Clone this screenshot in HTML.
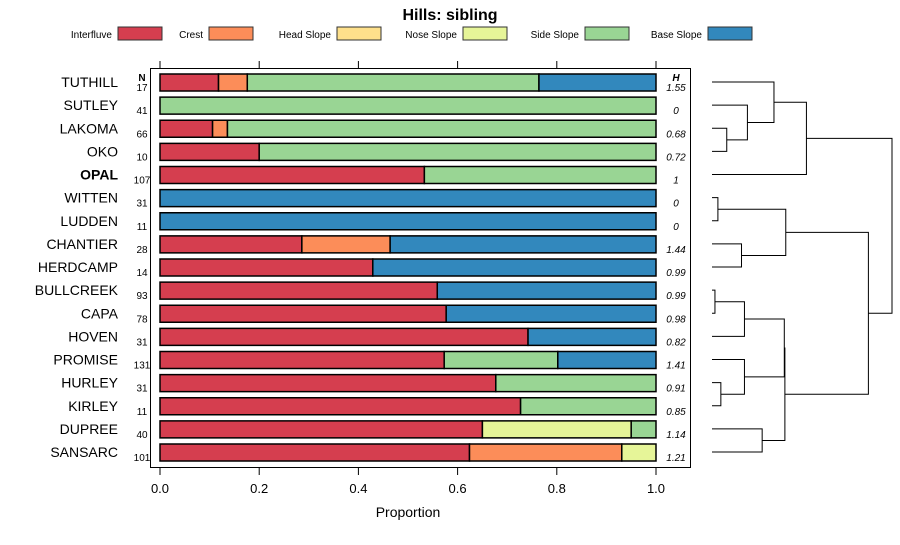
<!DOCTYPE html>
<html><head><meta charset="utf-8"><style>
body{margin:0;background:#fff;font-family:"Liberation Sans",sans-serif}
</style></head><body>
<svg width="900" height="540" xmlns="http://www.w3.org/2000/svg" font-family="Liberation Sans, sans-serif">
<g id="root"></g>
</svg>
<script>
const categories=["TUTHILL","SUTLEY","LAKOMA","OKO","OPAL","WITTEN","LUDDEN","CHANTIER","HERDCAMP","BULLCREEK","CAPA","HOVEN","PROMISE","HURLEY","KIRLEY","DUPREE","SANSARC"];
const seriesNames=["Interfluve","Crest","Head Slope","Nose Slope","Side Slope","Base Slope"];
const interfluve=[0.118,0,0.106,0.2,0.533,0,0,0.286,0.429,0.559,0.577,0.742,0.573,0.677,0.727,0.65,0.624];
const crest=[0.058,0,0.03,0,0,0,0,0.178,0,0,0,0,0,0,0,0,0.307];
const headSlope=[0,0,0,0,0,0,0,0,0,0,0,0,0,0,0,0,0];
const noseSlope=[0,0,0,0,0,0,0,0,0,0,0,0,0,0,0,0.3,0.069];
const sideSlope=[0.588,1,0.864,0.8,0.467,0,0,0,0,0,0,0,0.229,0.323,0.273,0.05,0];
const baseSlope=[0.236,0,0,0,0,1,1,0.536,0.571,0.441,0.423,0.258,0.198,0,0,0,0];
const nValues=[17,41,66,10,107,31,11,28,14,93,78,31,131,31,11,40,101];
const hValues=["1.55","0","0.68","0.72","1","0","0","1.44","0.99","0.99","0.98","0.82","1.41","0.91","0.85","1.14","1.21"];
const xTicks=[0,0.2,0.4,0.6,0.8,1.0];
const xTickLabels=["0.0","0.2","0.4","0.6","0.8","1.0"];
const colors=["#D53E4F","#FC8D59","#FEE08B","#E6F598","#99D594","#3288BD"];
const series=[interfluve,crest,headSlope,noseSlope,sideSlope,baseSlope];
// dendrogram merges: [leftNode,rightNode,height]; leaves 0..16, merges numbered 17+
const merges=[[2,3,0.05],[1,17,0.12],[0,18,0.21],[4,19,0.32],[5,6,0.02],[7,8,0.1],[21,22,0.25],[9,10,0.01],[24,11,0.11],[13,14,0.03],[12,26,0.11],[15,16,0.17],[25,27,0.245],[29,28,0.247],[23,30,0.53],[20,31,0.61]];

const NS="http://www.w3.org/2000/svg";
const root=document.getElementById('root');
function el(t,a,txt){const e=document.createElementNS(NS,t);for(const k in a)e.setAttribute(k,a[k]);if(txt!==undefined)e.textContent=txt;root.appendChild(e);return e;}
const x=v=>160+v*496;
const y=i=>82+i*23.125;
const dx=h=>712+h*(892-712)/0.61;

let e=el('text',{x:450,y:20,'text-anchor':'middle','font-size':16,'font-weight':'bold'},'Hills: sibling');

const legBox=[118,209,337,463,585,708];
seriesNames.forEach((n,k)=>{
 let t=el('text',{x:legBox[k]-6,y:38,'text-anchor':'end','font-size':10},n);
 
 let r=el('rect',{x:legBox[k],y:27,width:44,height:13,fill:colors[k],stroke:'#333','stroke-width':1});
 
});
e=el('rect',{x:150.5,y:68.5,width:540,height:399,fill:'none',stroke:'#000'});

xTicks.forEach((v,k)=>{
 el('line',{x1:x(v),x2:x(v),y1:61,y2:68,stroke:'#000'});
 el('line',{x1:x(v),x2:x(v),y1:468,y2:475,stroke:'#000'});
 let t=el('text',{x:x(v),y:493,'text-anchor':'middle','font-size':13},xTickLabels[k]);
 
});
e=el('text',{x:408,y:517,'text-anchor':'middle','font-size':14},'Proportion');

el('text',{x:142,y:81,'text-anchor':'middle','font-size':10,'font-weight':'bold'},'N');
el('text',{x:676,y:81,'text-anchor':'middle','font-size':10,'font-weight':'bold','font-style':'italic'},'H');
categories.forEach((c,i)=>{
 let t=el('text',{x:118,y:y(i)+5,'text-anchor':'end','font-size':14,'font-weight':c==='OPAL'?'bold':'normal'},c);
 
 t=el('text',{x:142,y:y(i)+9,'text-anchor':'middle','font-size':10},nValues[i]);
 
 t=el('text',{x:676,y:y(i)+9,'text-anchor':'middle','font-size':10,'font-style':'italic'},hValues[i]);
 
 let cum=0;
 series.forEach((s,k)=>{
  const v=s[i];if(v<=0)return;
  let r=el('rect',{x:x(cum),y:y(i)-8,width:x(cum+v)-x(cum),height:17,fill:colors[k],stroke:'#000','stroke-width':1.5});
  
  cum+=v;
 });
});
// dendrogram
const pos={};
categories.forEach((c,i)=>{pos[i]={x:712,y:y(i)};});
merges.forEach((m,k)=>{
 const a=pos[m[0]],b=pos[m[1]],hx=dx(m[2]);
 let p=el('path',{d:`M${a.x},${a.y}H${hx}V${b.y}H${b.x}`,fill:'none',stroke:'#000','stroke-width':1});
 
 pos[17+k]={x:hx,y:(a.y+b.y)/2};
});
</script>
</body></html>
